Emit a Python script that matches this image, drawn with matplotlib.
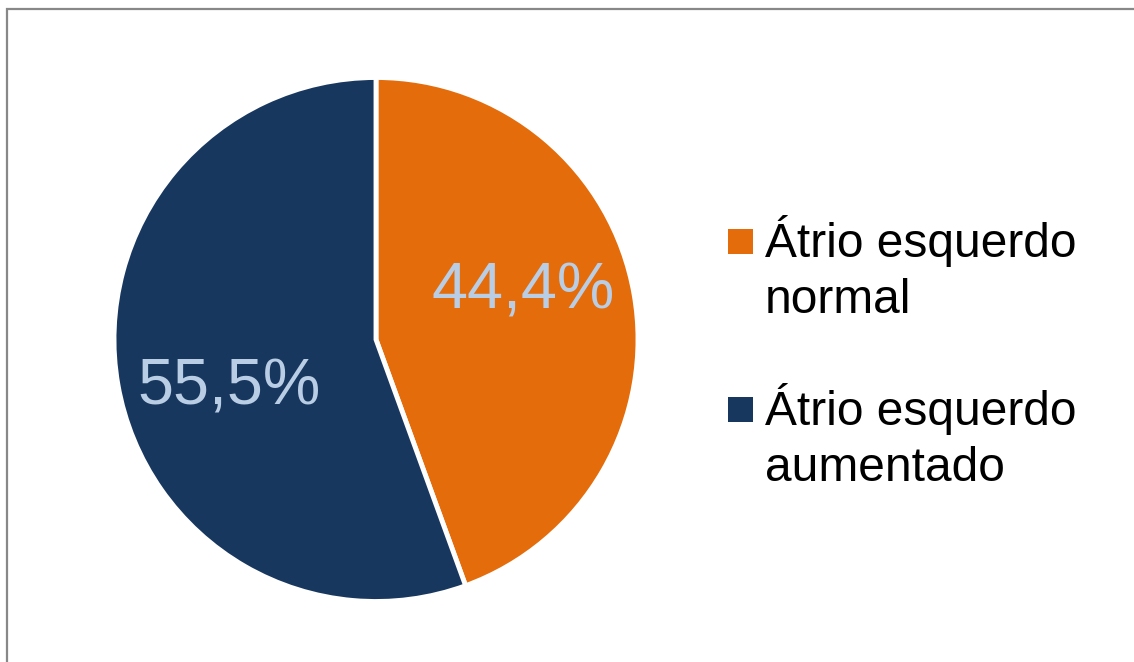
import numpy as np
import matplotlib
matplotlib.use("Agg")
import matplotlib.pyplot as plt
from matplotlib.patches import Rectangle

plt.rcParams["font.family"] = ["Liberation Sans", "DejaVu Sans"]

# dados
categorias = ["Átrio esquerdo\nnormal", "Átrio esquerdo\naumentado"]
valores = [44.4, 55.5]
cores = ["#E46C0A", "#17375E"]
cor_rotulo = "#B9CDE5"

W, H = 1134, 662
fig = plt.figure(figsize=(W / 100, H / 100), dpi=100)

# moldura cinza do gráfico
fig.patches.append(Rectangle((7 / W, -0.1), 1.2, 1 - 9 / H + 0.1, transform=fig.transFigure,
                             fill=False, edgecolor="#888888", linewidth=1.6))

# eixo da pizza (centro ~ (376, 339), raio ~262 px)
cx, cy, r = 376, 339.5, 262
ax = fig.add_axes([(cx - r) / W, (H - cy - r) / H, 2 * r / W, 2 * r / H])
wedges, _ = ax.pie(valores, colors=cores, startangle=90, counterclock=False, radius=1,
                   wedgeprops=dict(edgecolor="white", linewidth=3.5))
ax.set_xlim(-1, 1)
ax.set_ylim(-1, 1)
ax.set_aspect("equal")
ax.axis("off")

# rótulos de porcentagem
for w, v in zip(wedges, valores):
    ang = np.deg2rad((w.theta1 + w.theta2) / 2 + 8)
    ax.text(0.59 * np.cos(ang), 0.59 * np.sin(ang), f"{v:.1f}%".replace(".", ","),
            ha="center", va="center", fontsize=46.5, color=cor_rotulo)

# legenda
y_topo = [229, 397]
for cat, cor, yt in zip(categorias, cores, y_topo):
    fig.patches.append(Rectangle((728 / W, 1 - (yt + 25) / H), 25 / W, 25 / H,
                                 transform=fig.transFigure, facecolor=cor, edgecolor="none"))
    fig.text(765 / W, 1 - 257 / H + (229 - yt) / H, cat.split("\n")[0], fontsize=34.5,
             ha="left", va="baseline")
    fig.text(765 / W, 1 - 313 / H + (229 - yt) / H, cat.split("\n")[1], fontsize=34.5,
             ha="left", va="baseline")

fig.savefig("out.png", dpi=100)
